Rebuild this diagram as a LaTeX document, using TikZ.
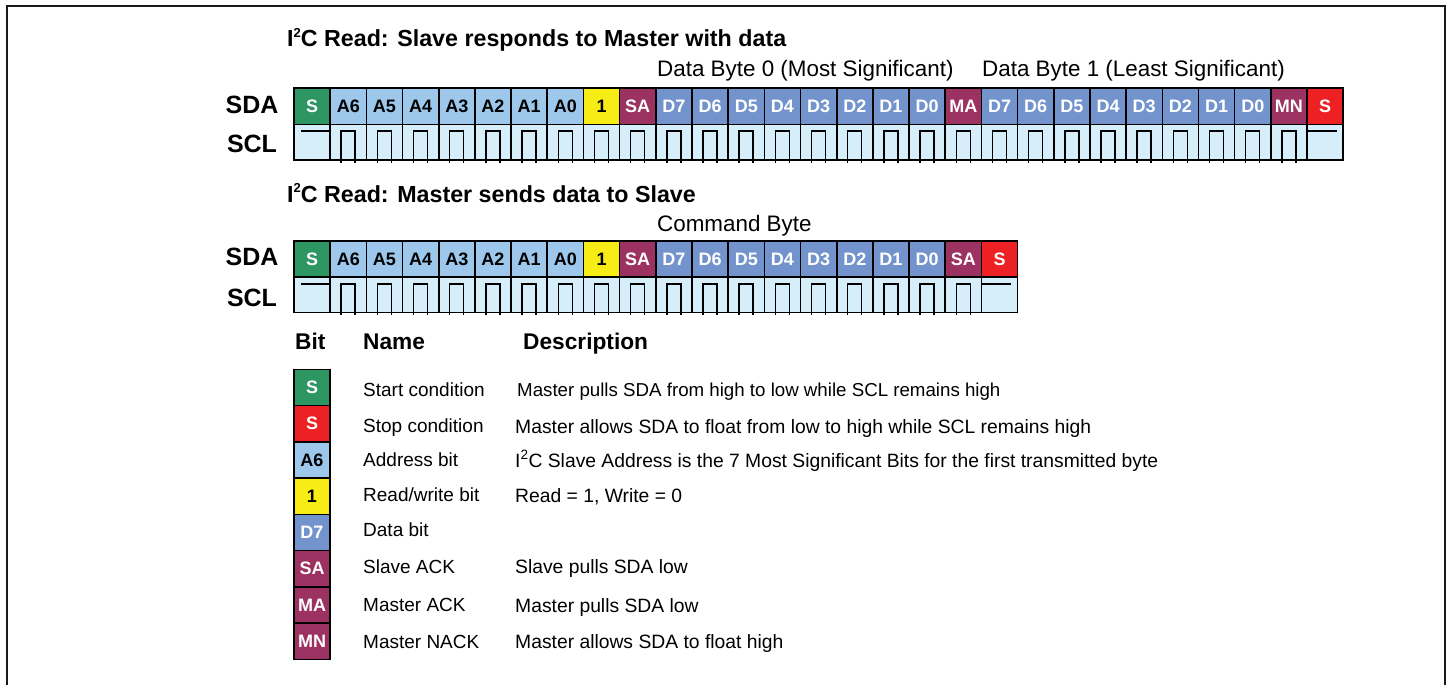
\documentclass[tikz,border=0pt]{standalone}
\usepackage{fontspec}
\setmainfont{Liberation Sans}
\definecolor{cgreen}{HTML}{2E9662}
\definecolor{clblue}{HTML}{9DC8EB}
\definecolor{cyellow}{HTML}{F8EC16}
\definecolor{cmaroon}{HTML}{9B3262}
\definecolor{cdblue}{HTML}{7393CC}
\definecolor{cred}{HTML}{ED2024}
\definecolor{cscl}{HTML}{D6EEFA}
\newcommand\fsz[1]{\fontsize{#1}{#1}\selectfont}
\newcommand\smtwo{\raisebox{0.42em}{\fontsize{13}{13}\selectfont 2}}
\tikzset{
  cellbox/.style={draw=black, line width=1.6pt, minimum width=36.18pt, minimum height=36.4pt, inner sep=0pt, font=\fsz{18}\bfseries},
  sclbox/.style={draw=black, line width=1.6pt, fill=cscl, minimum width=36.18pt, minimum height=35.6pt, inner sep=0pt},
  wave/.style={line width=1.5pt, black},
  sigl/.style={anchor=base, inner sep=0pt, font=\fsz{25}\bfseries},
  ttl/.style={anchor=base west, inner sep=0pt, font=\fsz{23.25}\bfseries},
  byt/.style={anchor=base west, inner sep=0pt, font=\fsz{22.4}},
  hdr/.style={anchor=base west, inner sep=0pt, font=\fsz{22.7}\bfseries},
  nam/.style={anchor=base west, inner sep=0pt, font=\fsz{19}},
  dsc/.style={anchor=base west, inner sep=0pt, font=\fsz{19.3}},
}
\begin{document}
\begin{tikzpicture}[x=1pt,y=-1pt]
\useasboundingbox (0,0) rectangle (1448,685);
% frame
\draw[line width=2pt, black!90] (7,685) -- (7,6) -- (1445,6) -- (1445,685);

% ---------- titles ----------
\node[ttl] (t1) at (287,47) {I\smtwo C Read: Slave responds to Master with data};
\node[byt] (b0) at (657,77) {Data Byte 0 (Most Significant)};
\node[byt] (b1) at (982,77) {Data Byte 1 (Least Significant)};

\node[sigl] (sda1) at (252,113) {SDA};
\node[sigl] (scl1) at (252,152) {SCL};

% ---------- row 1 ----------
\foreach \t/\f/\c [count=\i from 0] in {S/cgreen/white, A6/clblue/black, A5/clblue/black, A4/clblue/black, A3/clblue/black, A2/clblue/black, A1/clblue/black, A0/clblue/black, 1/cyellow/black, SA/cmaroon/white, D7/cdblue/white, D6/cdblue/white, D5/cdblue/white, D4/cdblue/white, D3/cdblue/white, D2/cdblue/white, D1/cdblue/white, D0/cdblue/white, MA/cmaroon/white, D7/cdblue/white, D6/cdblue/white, D5/cdblue/white, D4/cdblue/white, D3/cdblue/white, D2/cdblue/white, D1/cdblue/white, D0/cdblue/white, MN/cmaroon/white, S/cred/white} {
  \node[cellbox, fill=\f, text=\c] (a\i) at ({294+36.18*(\i+0.5)},106.2) {\t};
  \node[sclbox] (s\i) at ({294+36.18*(\i+0.5)},142.2) {};
}
% SCL waveform row 1
\draw[wave] (301,131) -- (330.18,131);
\foreach \i in {1,...,27} {
  \draw[wave] ({294+36.18*\i+11},163) -- ({294+36.18*\i+11},131) -- ({294+36.18*\i+25},131) -- ({294+36.18*\i+25},163);
}
\draw[wave] ({294+36.18*28},131) -- ({294+36.18*28+30},131);

% ---------- row 2 ----------
\node[ttl] (t2) at (287,202) {I\smtwo C Read: Master sends data to Slave};
\node[byt] (cb) at (657,231) {Command Byte};
\node[sigl] (sda2) at (252,265) {SDA};
\node[sigl] (scl2) at (252,306) {SCL};

\foreach \t/\f/\c [count=\i from 0] in {S/cgreen/white, A6/clblue/black, A5/clblue/black, A4/clblue/black, A3/clblue/black, A2/clblue/black, A1/clblue/black, A0/clblue/black, 1/cyellow/black, SA/cmaroon/white, D7/cdblue/white, D6/cdblue/white, D5/cdblue/white, D4/cdblue/white, D3/cdblue/white, D2/cdblue/white, D1/cdblue/white, D0/cdblue/white, SA/cmaroon/white, S/cred/white} {
  \node[cellbox, fill=\f, text=\c, minimum height=35.8pt] (c\i) at ({294+36.18*(\i+0.5)},258.9) {\t};
  \node[sclbox] (u\i) at ({294+36.18*(\i+0.5)},294.5) {};
}
\draw[wave] (301,284) -- (330.18,284);
\foreach \i in {1,...,18} {
  \draw[wave] ({294+36.18*\i+11},315) -- ({294+36.18*\i+11},284) -- ({294+36.18*\i+25},284) -- ({294+36.18*\i+25},315);
}
\draw[wave] ({294+36.18*19},284) -- ({294+36.18*19+30},284);

% ---------- legend ----------
\node[hdr] (hb) at (295,349) {Bit};
\node[hdr] (hn) at (363,349) {Name};
\node[hdr] (hd) at (523,349) {Description};

\foreach \t/\f/\c [count=\i from 0] in {S/cgreen/white, S/cred/white, A6/clblue/black, 1/cyellow/black, D7/cdblue/white, SA/cmaroon/white, MA/cmaroon/white, MN/cmaroon/white} {
  \node[cellbox, fill=\f, text=\c, minimum height=36.25pt] (k\i) at (312,{369.3+36.25*(\i+0.5)}) {\t};
}
\node[nam] (n0) at (363,396.7) {Start condition};
\node[nam] (n1) at (363,432.7) {Stop condition};
\node[nam] (n2) at (363,466) {Address bit};
\node[nam] (n3) at (363,501.7) {Read/write bit};
\node[nam] (n4) at (363,536.7) {Data bit};
\node[nam] (n5) at (363,573) {Slave ACK};
\node[nam] (n6) at (363,611.7) {Master ACK};
\node[nam] (n7) at (363,648.3) {Master NACK};

\node[dsc, font=\fsz{18.7}] (d0) at (517,396) {Master pulls SDA from high to low while SCL remains high};
\node[dsc] (d1) at (515,433) {Master allows SDA to float from low to high while SCL remains high};
\node[dsc] (d2) at (515,467) {I\textsuperscript{2}C Slave Address is the 7 Most Significant Bits for the first transmitted byte};
\node[dsc] (d3) at (515,502) {Read = 1, Write = 0};
\node[dsc] (d5) at (515,573) {Slave pulls SDA low};
\node[dsc] (d6) at (515,612) {Master pulls SDA low};
\node[dsc] (d7) at (515,648.3) {Master allows SDA to float high};
\end{tikzpicture}
\end{document}
